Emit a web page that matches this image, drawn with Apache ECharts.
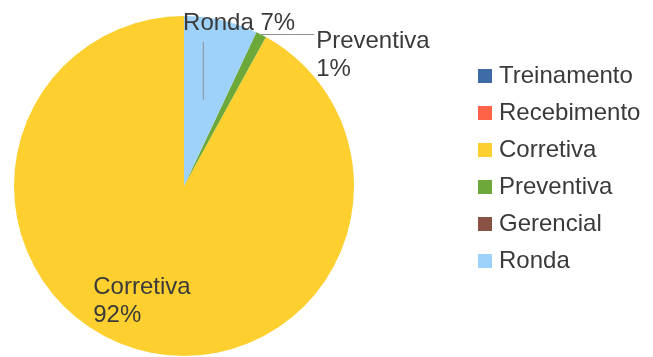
<!DOCTYPE html>
<html>
<head>
<meta charset="utf-8">
<script src="https://cdn.jsdelivr.net/npm/echarts@6/dist/echarts.min.js"></script>
<style>
  html, body { margin: 0; padding: 0; background: #ffffff; }
  #chart { width: 653px; height: 357px; }
</style>
</head>
<body>
<div id="chart"></div>
<script>
// Atendimentos por tipo (participação percentual)
const categories = ['Treinamento', 'Recebimento', 'Corretiva', 'Preventiva', 'Gerencial', 'Ronda'];
const shares = [0, 0, 92, 1, 0, 7];
const colors = ['#3c6ba6', '#ff6347', '#fdd030', '#6ca83a', '#8a5244', '#9fd2fa'];

// Pie geometry
const CX = 184, CY = 186, R = 170;
const FONT = 'Liberation Sans, Arial, sans-serif';
const TEXT = '#3a3a3a';
const GUIDE = '#8f8f8f';

const total = shares.reduce((a, b) => a + b, 0);

// Mid angle of each slice, measured clockwise from 12 o'clock
// (slices are laid out counter-clockwise starting at the top).
function midAngleCw(i) {
  let start = 0;
  for (let k = 0; k < i; k++) start += shares[k] / total * 360;
  const mid = start + shares[i] / total * 180;
  return 360 - mid;
}
function polar(angleCw, r) {
  const a = angleCw * Math.PI / 180;
  return [CX + r * Math.sin(a), CY - r * Math.cos(a)];
}

const data = categories.map((name, i) => {
  const item = { name: name, value: shares[i], itemStyle: { color: colors[i] } };
  if (shares[i] === 0) {
    item.label = { show: false };
    item.labelLine = { show: false };
  }
  if (name === 'Corretiva' || name === 'Ronda') {
    item.labelLine = { show: false };
  }
  return item;
});

// Ronda's guide runs from inside its slice straight up to the label
const rondaIdx = categories.indexOf('Ronda');
const rondaInner = polar(midAngleCw(rondaIdx), R * 0.52);

const chart = echarts.init(document.getElementById('chart'), null, { renderer: 'canvas' });

chart.setOption({
  backgroundColor: '#ffffff',
  animation: false,
  legend: {
    orient: 'vertical',
    left: 473,
    top: 59,
    icon: 'rect',
    itemWidth: 14,
    itemHeight: 14,
    itemGap: 13,
    selectedMode: false,
    data: categories,
    textStyle: {
      fontFamily: FONT,
      fontSize: 24,
      lineHeight: 24,
      color: TEXT,
      padding: [0, 0, 0, 2]
    }
  },
  graphic: [{
    type: 'line',
    z: 100,
    silent: true,
    shape: { x1: rondaInner[0], y1: rondaInner[1], x2: rondaInner[0], y2: 42 },
    style: { stroke: GUIDE, lineWidth: 1 }
  }],
  series: [{
    type: 'pie',
    center: [CX, CY],
    radius: R,
    startAngle: 90,
    clockwise: false,
    avoidLabelOverlap: false,
    silent: true,
    data: data,
    label: {
      show: true,
      position: 'outside',
      fontFamily: FONT,
      fontSize: 24,
      lineHeight: 28,
      color: TEXT,
      formatter: function (p) {
        const pct = Math.round(p.percent) + '%';
        return p.name === 'Ronda' ? p.name + ' ' + pct : p.name + '\n' + pct;
      }
    },
    labelLine: {
      show: true,
      lineStyle: { color: GUIDE, width: 1 }
    },
    labelLayout: function (params) {
      const i = params.dataIndex;
      const name = categories[i];
      const mid = midAngleCw(i);
      if (name === 'Ronda') {
        const edge = polar(mid, R);
        return { x: edge[0] - 38, y: edge[1] + 3, align: 'left', verticalAlign: 'middle' };
      }
      if (name === 'Preventiva') {
        const edge = polar(mid, R);
        return {
          x: edge[0] + 55, y: edge[1] + 21,
          align: 'left', verticalAlign: 'middle',
          labelLinePoints: [[edge[0], edge[1]], [edge[0] + 27, edge[1]], [edge[0] + 53, edge[1]]]
        };
      }
      if (name === 'Corretiva') {
        const p = polar(mid, R * 0.68);
        return { x: p[0] - 62, y: p[1] + 3, align: 'left', verticalAlign: 'middle' };
      }
      return {};
    }
  }]
});
</script>
</body>
</html>
